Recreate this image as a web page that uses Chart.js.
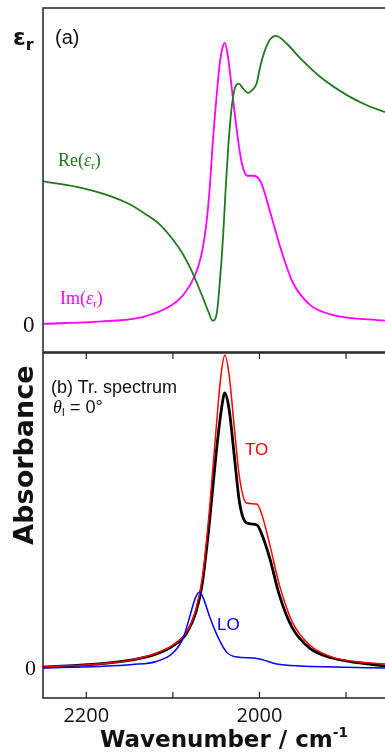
<!DOCTYPE html>
<html>
<head>
<meta charset="utf-8">
<script src="https://cdn.jsdelivr.net/npm/chart.js@4.4.1/dist/chart.umd.min.js"></script>
<style>
  body { margin: 0; background: #fff; width: 385px; height: 752px; overflow: hidden; position: relative;
         font-family: "Liberation Sans", Arial, sans-serif; color: #111; }
  .box { position: absolute; left: 0; width: 385px; }
  .lbl { position: absolute; line-height: 1; white-space: nowrap; }
  .serif { font-family: "Liberation Serif", "Times New Roman", serif; }
  .sub { font-size: 62%; position: relative; top: 0.28em; }
</style>
</head>
<body>
<div class="box" style="top:0;height:353px"><canvas id="eps-chart"></canvas></div>
<div class="box" style="top:352px;height:400px"><canvas id="abs-chart"></canvas></div>

<!-- panel (a) labels -->
<div class="lbl" style="left:13px;top:24px;font:bold 23px 'DejaVu Sans',sans-serif">ε<span class="sub" style="font-size:70%">r</span></div>
<div class="lbl" style="left:55px;top:27px;font-size:20px">(a)</div>
<div class="lbl serif" style="left:58px;top:151px;font-size:18px;color:#1f7a1f">Re(<i>ε</i><span class="sub">r</span>)</div>
<div class="lbl serif" style="left:60px;top:289px;font-size:18px;color:#ff00ff">Im(<i>ε</i><span class="sub">r</span>)</div>
<div class="lbl serif" style="left:23px;top:313px;font-size:23px">0</div>

<!-- panel (b) labels -->
<div class="lbl" style="left:51px;top:378px;font-size:18px">(b) Tr. spectrum</div>
<div class="lbl" style="left:53px;top:398px;font-size:18px"><i class="serif">θ</i><span class="sub">I</span> = 0°</div>
<div class="lbl" style="left:245px;top:441px;font-size:17px;color:#ff0000">TO</div>
<div class="lbl" style="left:217px;top:616px;font-size:17px;color:#0000ff">LO</div>
<div class="lbl serif" style="left:25px;top:657px;font-size:22px">0</div>
<div class="lbl" style="left:23px;top:455px;font:bold 27px 'DejaVu Sans',sans-serif;transform:translate(-50%,-50%) rotate(-90deg)">Absorbance</div>
<div class="lbl" style="left:100px;top:726px;font:bold 23px 'DejaVu Sans',sans-serif">Wavenumber / cm<span style="font-size:60%;position:relative;top:-0.75em">-1</span></div>

<script>
// Dielectric function, panel (a)
const reWn  = [2250, 2211, 2173, 2150, 2131, 2115, 2100, 2088, 2079, 2073, 2065, 2059, 2054, 2049, 2046, 2042, 2039, 2036, 2032, 2028, 2024, 2019, 2013, 2008, 2003, 2000, 1996, 1988, 1981, 1969, 1953, 1930, 1899, 1876, 1855];
const reVal = [5.05, 4.86, 4.54, 4.24, 3.88, 3.52, 2.99, 2.45, 1.92, 1.5, 0.9, 0.43, 0.11, 0.43, 1.39, 3.1, 4.8, 6.3, 7.7, 8.4, 8.52, 8.35, 8.19, 8.3, 8.55, 9.0, 9.48, 10.07, 10.21, 9.95, 9.42, 8.76, 8.11, 7.75, 7.51];

const imWn  = [2250, 2192, 2134, 2104, 2088, 2075, 2067, 2061, 2057, 2054, 2050, 2046, 2043, 2040, 2037, 2034, 2029, 2021, 2014, 2006, 1998, 1988, 1977, 1962, 1942, 1916, 1855];
const imVal = [0, 0.07, 0.25, 0.61, 1.02, 1.68, 2.45, 3.64, 5.0, 6.4, 7.9, 9.2, 9.75, 9.96, 9.6, 8.9, 7.57, 5.79, 5.25, 5.25, 5.0, 4.0, 2.82, 1.5, 0.68, 0.32, 0.11];

// Transmission spectra, panel (b)
const absWn    = [2250, 2185, 2147, 2119, 2100, 2084, 2073, 2066, 2058, 2050, 2044, 2040, 2035, 2029, 2023, 2015, 2003, 1997, 1988, 1977, 1962, 1942, 1916, 1884, 1855];
const toVal    = [0, 0.1, 0.23, 0.45, 0.71, 1.13, 1.9, 2.87, 5.0, 7.71, 9.52, 10.06, 9.42, 7.71, 6.1, 5.29, 5.26, 4.9, 3.94, 2.65, 1.45, 0.71, 0.32, 0.16, 0.1];
const totalVal = [0, 0.1, 0.23, 0.42, 0.68, 1.1, 1.8, 2.7, 4.6, 6.9, 8.3, 8.84, 8.3, 6.8, 5.3, 4.65, 4.58, 4.26, 3.5, 2.32, 1.26, 0.61, 0.29, 0.13, 0.03];

const loWn  = [2250, 2185, 2147, 2119, 2100, 2088, 2080, 2074, 2069, 2065, 2057, 2049, 2038, 2026, 2007, 1996, 1980, 1953, 1915, 1855];
const loVal = [-0.03, 0.02, 0.08, 0.18, 0.45, 0.94, 1.68, 2.23, 2.42, 2.23, 1.58, 1.03, 0.48, 0.32, 0.29, 0.23, 0.1, 0.03, 0, -0.03];

const xTicks = [2200, 2100, 2000, 1900];
const xLabels = ['2200', '', '2000', ''];

const pts = (xs, ys) => xs.map((x, i) => ({x: x, y: ys[i]}));

const line = (data, color, width) => ({
  data: data,
  borderColor: color,
  borderWidth: width,
  pointRadius: 0,
  fill: false,
  cubicInterpolationMode: 'monotone'
});

// frame lines + inner ticks drawn from the chart's own scales
const framePlugin = (withTicks) => ({
  id: 'frame',
  afterDatasetsDraw(chart) {
    const {ctx, chartArea: a, scales} = chart;
    ctx.save();
    ctx.strokeStyle = '#222';
    ctx.lineWidth = 1.5;
    ctx.beginPath();
    ctx.moveTo(a.right + 2, a.top); ctx.lineTo(a.left, a.top);
    ctx.lineTo(a.left, a.bottom); ctx.lineTo(a.right + 2, a.bottom);
    ctx.stroke();
    if (withTicks) {
      ctx.lineWidth = 1.2;
      ctx.fillStyle = '#111';
      ctx.font = '20px "Open Sans", sans-serif';
      ctx.textAlign = 'center';
      xTicks.forEach((t, i) => {
        const px = scales.x.getPixelForValue(t);
        ctx.beginPath();
        ctx.moveTo(px, a.bottom); ctx.lineTo(px, a.bottom - 6);
        ctx.moveTo(px, a.top); ctx.lineTo(px, a.top + 6);
        ctx.stroke();
        if (xLabels[i]) ctx.fillText(xLabels[i], px, a.bottom + 24);
      });
    }
    ctx.restore();
  }
});

const baseOptions = (yMin, yMax, pad) => ({
  responsive: true,
  maintainAspectRatio: false,
  animation: false,
  events: [],
  layout: { padding: pad },
  plugins: { legend: { display: false }, tooltip: { enabled: false } },
  scales: {
    x: { type: 'linear', reverse: true, min: 1855, max: 2250, display: false },
    y: { min: yMin, max: yMax, display: false }
  }
});

// Dielectric function chart
new Chart(document.getElementById('eps-chart'), {
  type: 'line',
  data: { datasets: [
    line(pts(reWn, reVal), '#1f7a1f', 1.8),
    line(pts(imWn, imVal), '#ff00ff', 1.8)
  ]},
  options: baseOptions(-1, 11.2, {left: 43, top: 8, right: 0, bottom: 1}),
  plugins: [framePlugin(false)]
});

// Absorbance chart
new Chart(document.getElementById('abs-chart'), {
  type: 'line',
  data: { datasets: [
    line(pts(loWn, loVal), '#0000ff', 1.5),
    line(pts(absWn, toVal), '#ff0000', 1.5),
    line(pts(absWn, totalVal), '#000000', 2.8)
  ]},
  options: baseOptions(-1, 10.13, {left: 43, top: 1, right: 0, bottom: 54}),
  plugins: [framePlugin(true)]
});
</script>
</body>
</html>
